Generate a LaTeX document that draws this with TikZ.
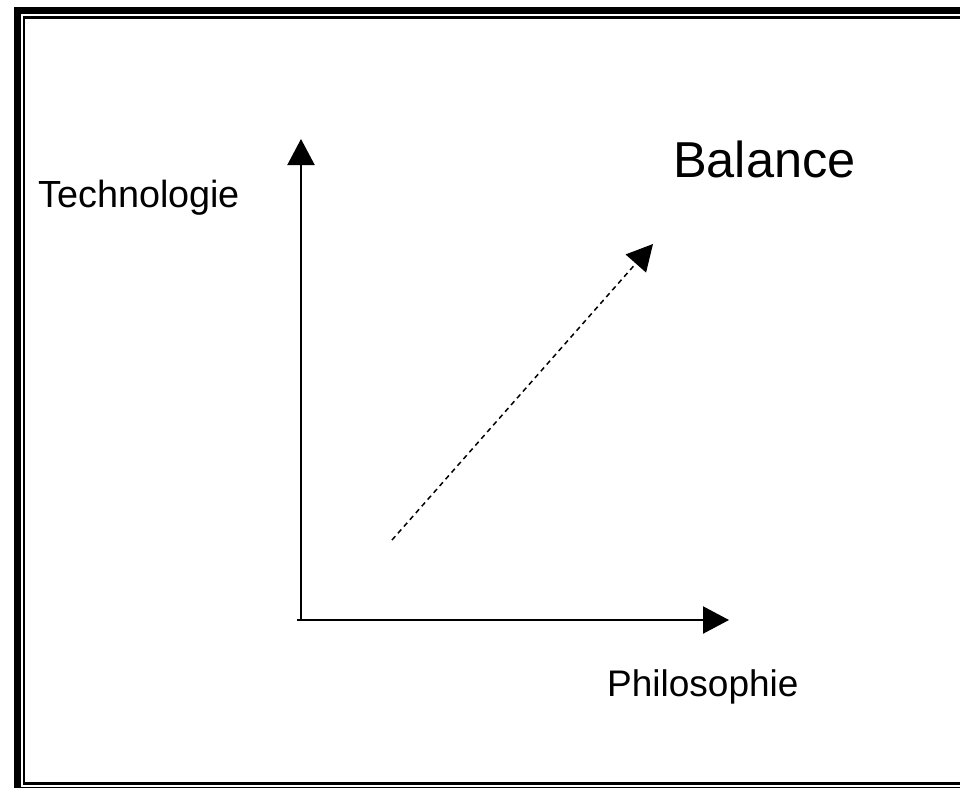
\documentclass[tikz,border=0pt]{standalone}
\usepackage{fontspec}
\setmainfont{Liberation Sans}
\usetikzlibrary{arrows.meta,positioning}

\begin{document}
\begin{tikzpicture}[
  x=1pt, y=-1pt,
  lbl/.style  = {anchor=base west, inner sep=0pt, font=\fontsize{37.8}{42}\selectfont},
  big/.style  = {anchor=base west, inner sep=0pt, font=\fontsize{50.5}{56}\selectfont},
  axis/.style = {-{Triangle[length=26pt, width=27pt]}, line width=2.2pt},
  diag/.style = {-{Triangle[length=26pt, width=27pt]}, line width=1.5pt,
                 dash pattern=on 5pt off 4pt}
]
\useasboundingbox (0,0) rectangle (960,787);
\clip (0,0) rectangle (960,787);

% Rahmen (doppelt)
\draw[line width=7pt]   (17.5,10.5) rectangle (975,790.5);
\draw[line width=2.5pt] (24,17.5)   rectangle (968,783.5);

% Achsen
\coordinate (o)    at (301,620);
\coordinate (ytip) at (301,139);
\coordinate (xtip) at (729,620);
\draw[line width=2.2pt] (o) -- ++(-4,0);
\draw[axis] ([yshift=1pt]o) -- (ytip);
\draw[axis] (o) -- (xtip);

% Pfeil zur Balance
\coordinate (ds) at (392,540);
\coordinate (dt) at (653,244);
\draw[diag] (ds) -- (dt);

% Beschriftungen
\node[lbl] (tech) at (38,207)  {Technologie};
\node[lbl, font=\fontsize{37}{42}\selectfont] (phil) at (607,696) {Philosophie};
\node[big] (bal)  at (673,177) {Balance};

\end{tikzpicture}
\end{document}
